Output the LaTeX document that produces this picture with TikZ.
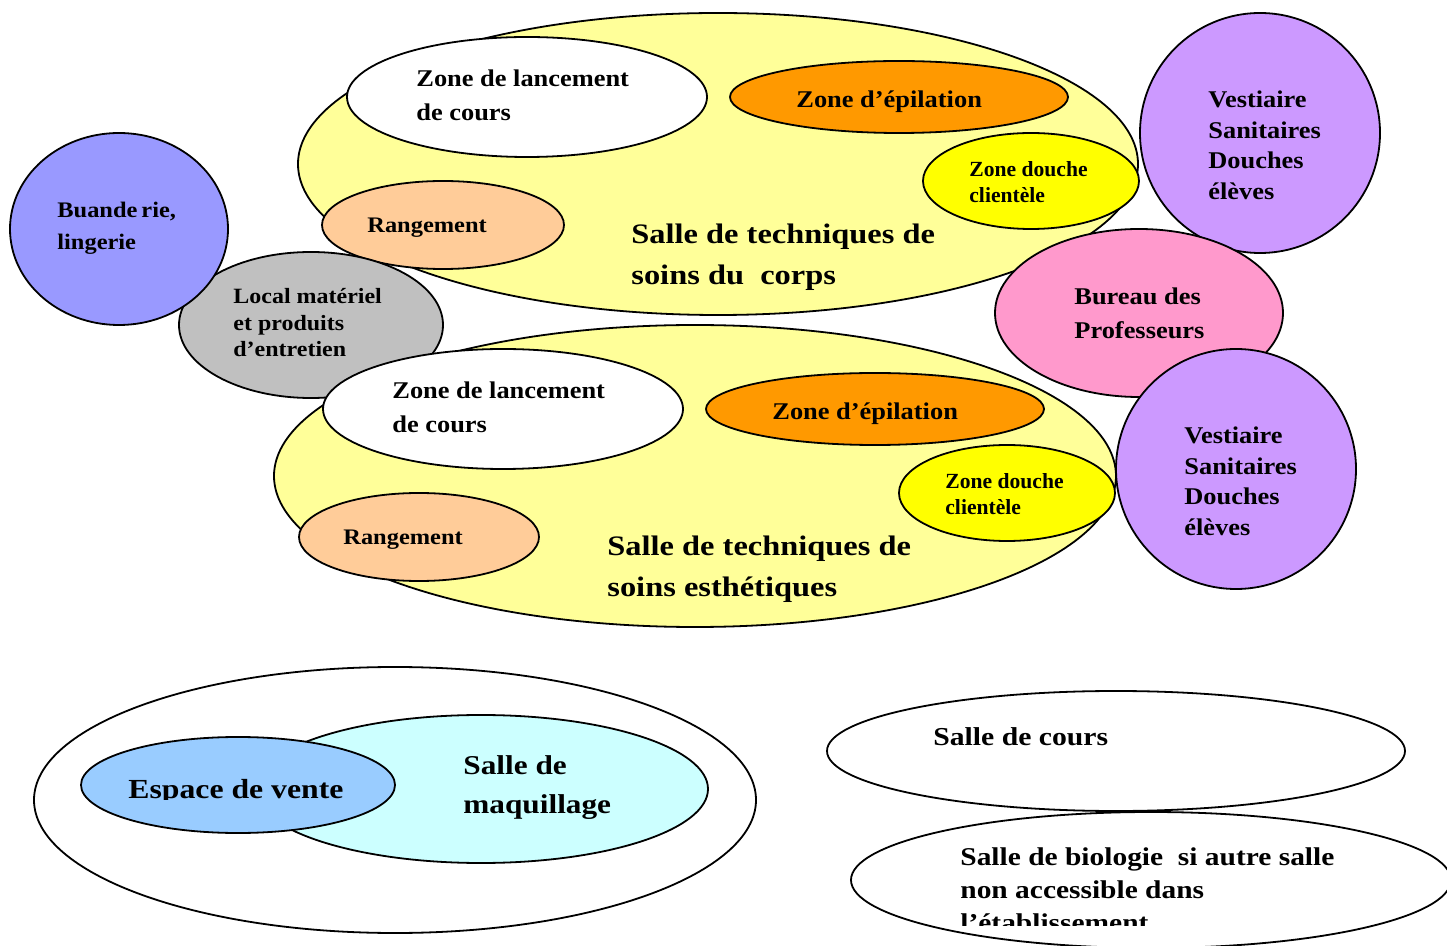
\documentclass[tikz,border=0pt]{standalone}
\usepackage{fontspec}
\setmainfont{Liberation Serif}
\newfontfamily\fS{Liberation Serif}[FakeStretch=1.15]
\newfontfamily\fT{Liberation Serif}[FakeStretch=1.1]
\newfontfamily\fN{Liberation Serif}
\usetikzlibrary{shapes.geometric}
\definecolor{cY}{HTML}{FFFF99}
\definecolor{cOr}{HTML}{FF9900}
\definecolor{cYel}{HTML}{FFFF00}
\definecolor{cRa}{HTML}{FFCC99}
\definecolor{cBu}{HTML}{9999FF}
\definecolor{cLo}{HTML}{C0C0C0}
\definecolor{cVe}{HTML}{CC99FF}
\definecolor{cBp}{HTML}{FF99CC}
\definecolor{cMaq}{HTML}{CCFFFF}
\definecolor{cEsp}{HTML}{99CCFF}
\newcommand\tfs[1]{\fS\bfseries\fontsize{#1}{#1}\selectfont}
\newcommand\tft[1]{\fT\bfseries\fontsize{#1}{#1}\selectfont}
\newcommand\tfn[1]{\fN\bfseries\fontsize{#1}{#1}\selectfont}
\newcommand\stk[2]{\vtop{\baselineskip=#1\relax #2}}
\tikzset{
  room/.style={ellipse, draw=black, line width=0.9pt, inner sep=0pt},
  lbl/.style={anchor=base west, inner sep=0pt, text=black}
}
\begin{document}
\begin{tikzpicture}[x=0.5pt, y=-0.5pt]
\useasboundingbox (0,0) rectangle (1447,946);
\fill[white] (0,0) rectangle (1447,946);

% --- Salle de techniques de soins du corps ---
\node[room, fill=cY, minimum width=420pt, minimum height=151pt] (y1) at (718,164) {};
\node[room, fill=white, minimum width=180pt, minimum height=60pt] (zl1) at (527,97) {};
\node[room, fill=cOr, minimum width=169pt, minimum height=36pt] (ep1) at (899,97) {};
\node[room, fill=cYel, minimum width=108pt, minimum height=48pt] (do1) at (1031,181) {};
\node[room, fill=cRa, minimum width=121pt, minimum height=44pt] (ra1) at (443,225) {};

% --- Salle de techniques de soins esthetiques ---
\node[room, fill=cY, minimum width=421pt, minimum height=151pt] (y2) at (695,476) {};
\node[room, fill=cLo, minimum width=132pt, minimum height=73pt] (lo) at (311,325) {};
\node[room, fill=cBu, minimum width=109pt, minimum height=96pt] (bu) at (119,229) {};
\node[room, fill=white, minimum width=180pt, minimum height=60pt] (zl2) at (503,409) {};
\node[room, fill=cOr, minimum width=169pt, minimum height=36pt] (ep2) at (875,409) {};
\node[room, fill=cYel, minimum width=108pt, minimum height=48pt] (do2) at (1007,493) {};
\node[room, fill=cRa, minimum width=120pt, minimum height=44pt] (ra2) at (419,537) {};

% --- right column ---
\node[room, fill=cVe, minimum width=120pt, minimum height=120pt] (ve1) at (1260,133) {};
\node[room, fill=cBp, minimum width=144pt, minimum height=84pt] (bp) at (1139,313) {};
\node[room, fill=cVe, minimum width=120pt, minimum height=120pt] (ve2) at (1236,469) {};

% --- bottom ---
\node[room, fill=white, minimum width=361pt, minimum height=133pt] (out) at (395,800) {};
\node[room, fill=cMaq, minimum width=227pt, minimum height=74pt] (maq) at (481,789) {};
\node[room, fill=cEsp, minimum width=157pt, minimum height=48pt] (esp) at (238,785) {};
\node[room, fill=white, minimum width=289pt, minimum height=60pt] (cours) at (1116,751) {};
\node[room, fill=white, minimum width=300pt, minimum height=68pt] (bio) at (1151,880) {};

% --- labels ---
\node[lbl] (tzl1) at (416,87) {\tft{12}\stk{17pt}{\hbox{Zone de lancement}\hbox{de cours}}};
\node[lbl] (tep1) at (796,108) {\tft{12}Zone d’épilation};
\node[lbl] (tdo1) at (969,177) {\tfn{10.8}\stk{13pt}{\hbox{Zone douche}\hbox{clientèle}}};
\node[lbl] (tra1) at (367,233) {\tft{11.1}Rangement};
\node[lbl] (ts1) at (631,244) {\tfs{14.1}\stk{20.5pt}{\hbox{Salle de techniques de}\hbox{soins du\ \ corps}}};

\node[lbl] (tzl2) at (392,399) {\tft{12}\stk{17pt}{\hbox{Zone de lancement}\hbox{de cours}}};
\node[lbl] (tep2) at (772,420) {\tft{12}Zone d’épilation};
\node[lbl] (tdo2) at (945,489) {\tfn{10.8}\stk{13pt}{\hbox{Zone douche}\hbox{clientèle}}};
\node[lbl] (tra2) at (343,545) {\tft{11.1}Rangement};
\node[lbl] (ts2) at (607,556) {\tfs{14.1}\stk{20.5pt}{\hbox{Salle de techniques de}\hbox{soins esthétiques}}};

\node[lbl] (tbu) at (57,218) {\tft{11.1}\stk{16pt}{\hbox{Buande\kern2pt rie,}\hbox{lingerie}}};
\node[lbl] (tlo) at (233,304) {\tft{10.9}\stk{13.25pt}{\hbox{Local matériel}\hbox{et produits}\hbox{d’entretien}}};

\node[lbl] (tve1) at (1208,108) {\tft{12}\stk{15.2pt}{\hbox{Vestiaire}\hbox{Sanitaires}\hbox{Douches}\hbox{élèves}}};
\node[lbl] (tbp) at (1074,305) {\tft{12}\stk{17pt}{\hbox{Bureau des}\hbox{Professeurs}}};
\node[lbl] (tve2) at (1184,444) {\tft{12}\stk{15.2pt}{\hbox{Vestiaire}\hbox{Sanitaires}\hbox{Douches}\hbox{élèves}}};

\begin{scope}
\clip (0,0) rectangle (1447,799.5);
\node[lbl] (tesp) at (128,798) {\tfs{13.8}Espace de vente};
\end{scope}
\node[lbl] (tmaq) at (463,774) {\tfs{13.6}\stk{19.5pt}{\hbox{Salle de}\hbox{maquillage}}};
\node[lbl] (tcours) at (933,746) {\tfs{12.9}Salle de cours};
\begin{scope}
\clip (0,0) rectangle (1447,925);
\node[lbl] (tbio) at (960,865) {\tfs{12.8}\stk{16.5pt}{\hbox{Salle de biologie\ \ si autre salle}\hbox{non accessible dans}\hbox{l’établissement}}};
\end{scope}
\end{tikzpicture}
\end{document}
